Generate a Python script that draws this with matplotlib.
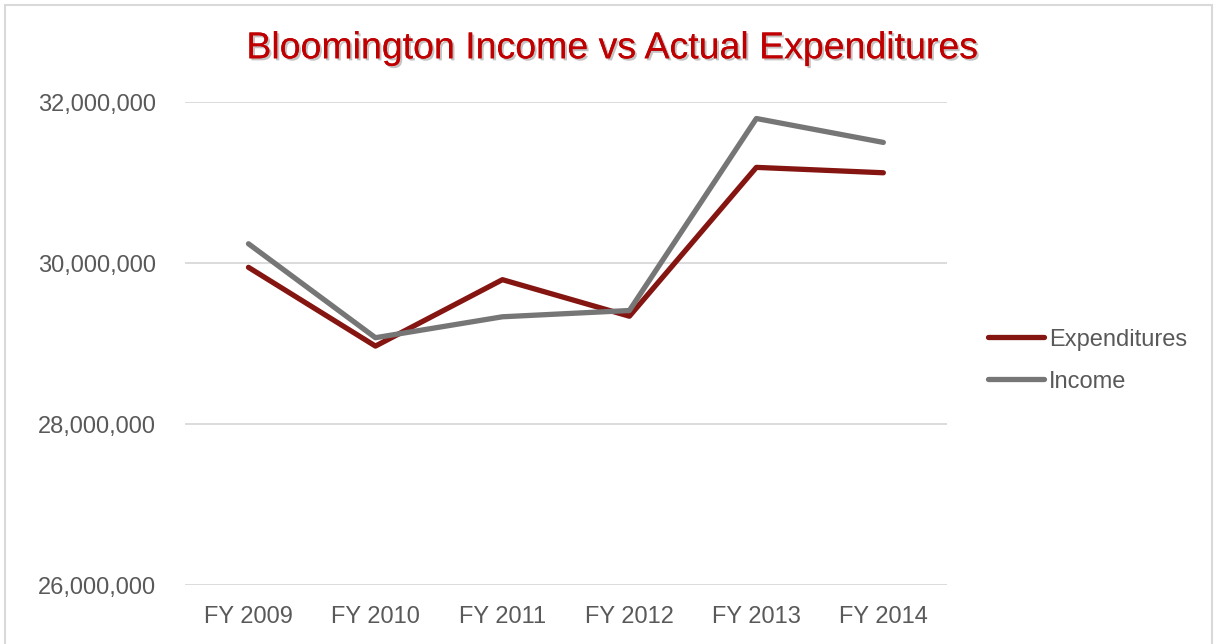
"""Bloomington income vs actual expenditures line chart"""
import matplotlib
matplotlib.use("Agg")
import matplotlib.pyplot as plt
import matplotlib.patheffects as pe
from matplotlib.patches import Rectangle
from matplotlib.ticker import FuncFormatter

# -----------------------------------------------------------------------------
# Data

years = ["FY 2009", "FY 2010", "FY 2011", "FY 2012", "FY 2013", "FY 2014"]
expenditures = [29946000, 28968000, 29793000, 29339000, 31188000, 31121000]
income = [30239000, 29072000, 29332000, 29410000, 31795000, 31498000]
y_ticks = [26000000, 28000000, 30000000, 32000000]

# -----------------------------------------------------------------------------
# Plot

plt.rcParams['font.family'] = ['Liberation Sans', 'DejaVu Sans']
text_gray = '#595959'

fig = plt.figure(figsize=(12.17, 6.44), dpi=100)
ax = fig.add_axes([0.152, 0.0916, 0.626, 0.75])

x = range(len(years))
ax.plot(x, expenditures, color='#841511', lw=3.8, solid_capstyle='round',
        solid_joinstyle='round', label='Expenditures', zorder=3)
ax.plot(x, income, color='#767676', lw=3.8, solid_capstyle='round',
        solid_joinstyle='round', label='Income', zorder=3)

ax.set_xlim(-0.5, len(years) - 0.5)
ax.set_ylim(y_ticks[0], y_ticks[-1])
ax.set_xticks(list(x))
ax.set_xticklabels(years)
ax.set_yticks(y_ticks)
ax.yaxis.set_major_formatter(FuncFormatter(lambda v, _: f"{int(v):,}"))
ax.tick_params(axis='both', length=0, labelsize=17, labelcolor=text_gray)
ax.tick_params(axis='y', pad=21)
ax.tick_params(axis='x', pad=15)
ax.grid(axis='y', color='#D9D9D9', lw=1.3, zorder=0)
for s in ax.spines.values():
    s.set_visible(False)

fig.text(0.503, 0.925, "Bloomington Income vs Actual Expenditures",
         ha='center', va='center', fontsize=27, color='#C00000',
         path_effects=[pe.withSimplePatchShadow(offset=(1.5, -1.5),
                                                shadow_rgbFace='#888888',
                                                alpha=0.5),
                       pe.Normal()])

leg = ax.legend(loc='center left', bbox_to_anchor=(0.794, 0.44),
                bbox_transform=fig.transFigure, frameon=False,
                fontsize=17, handlelength=2.4, handletextpad=0.2,
                labelspacing=0.85)
for t in leg.get_texts():
    t.set_color(text_gray)

# Light frame around the chart area
fig.patches.append(Rectangle((0.004, -0.01), 0.992, 1.002,
                             transform=fig.transFigure, fill=False,
                             edgecolor='#D9D9D9', lw=1.5))

fig.savefig("out.png", dpi=100)
